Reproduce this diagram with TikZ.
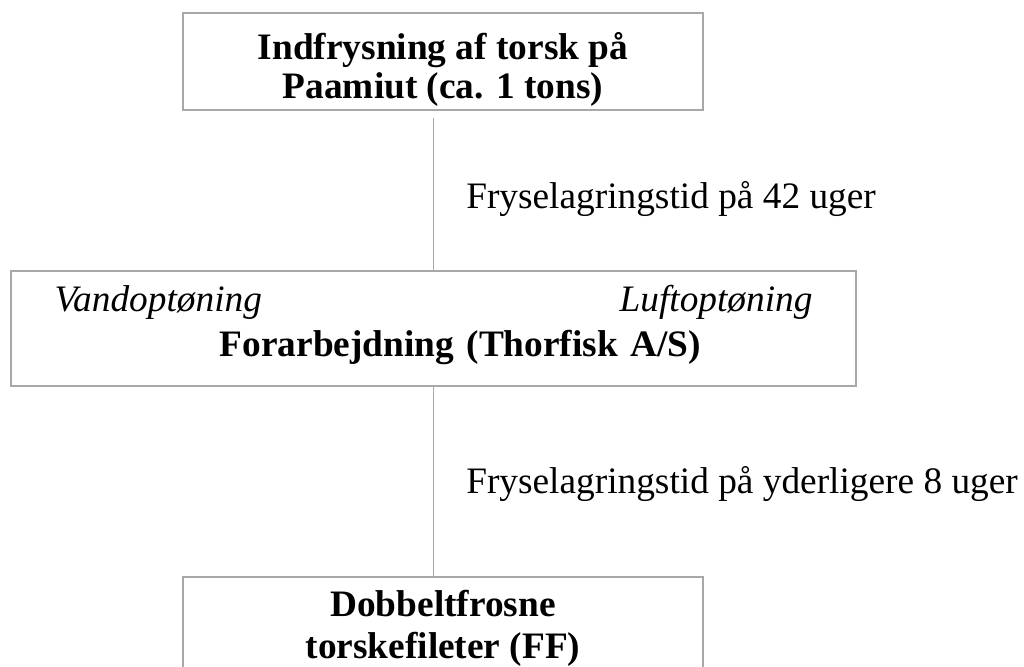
\documentclass[tikz,border=0pt]{standalone}
\usepackage{fontspec}
\setmainfont{Liberation Serif}
\usetikzlibrary{positioning}
\definecolor{boxgray}{RGB}{168,168,168}
\begin{document}
\begin{tikzpicture}
            [x=0.75pt,y=-0.75pt,
             box/.style ={draw=boxgray,line width=1.1pt,inner sep=0pt,align=center},
             link/.style ={draw=boxgray,line width=1.1pt},
             note/.style ={font=\fontsize{28}{33}\selectfont,anchor=base west,inner sep=0pt}]
            \useasboundingbox (0,0) rectangle (1024,667);
            \node[box,minimum width=390pt,minimum height=72.75pt,
                  font=\fontsize{28}{29}\selectfont\bfseries] (indfrys) at (443,61.5)
                 {\rule{0pt}{32pt}Indfrysning af torsk på\\Paamiut (ca. 1 tons)};
            \node[box,minimum width=633.75pt,minimum height=86.25pt,text width=568.5pt,align=left,
                  font=\fontsize{28}{33.75}\selectfont] (forarb) at (433.5,328.5)
                 {\textit{Vandoptøning}\hfill\textit{Luftoptøning}\\
                  \hspace*{124pt}\textbf{Forarbejdning (Thorfisk A/S)}\rule[-12pt]{0pt}{12pt}};
            \node[box,minimum width=390pt,minimum height=77pt,
                  font=\fontsize{28}{31.5}\selectfont\bfseries] (dobbelt) at (443,628.35)
                 {Dobbeltfrosne\\torskefileter (FF)};
            \node[note] (lager1) at (466,208) {Fryselagringstid på 42 uger};
            \node[note] (lager2) at (466,493) {Fryselagringstid på yderligere 8 uger};
            \draw[link,shorten >=5.25pt] (forarb.north) -- (forarb.north |- indfrys.south);
            \draw[link] (forarb.south) -- (forarb.south |- dobbelt.north);
        \end{tikzpicture}
\end{document}
